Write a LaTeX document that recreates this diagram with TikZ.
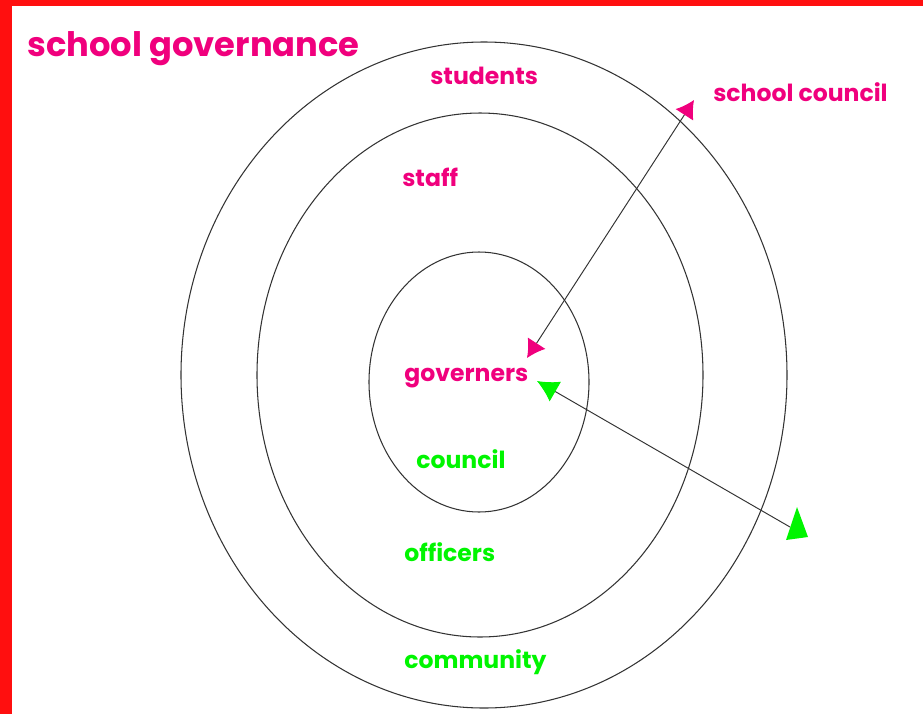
\documentclass[tikz,border=0pt]{standalone}
\usepackage{fontspec}
\setmainfont{Poppins}
\usetikzlibrary{arrows.meta}

\definecolor{govpink}{RGB}{240,0,125}
\definecolor{govgreen}{RGB}{0,245,0}
\definecolor{framered}{RGB}{255,15,15}

\begin{document}
\begin{tikzpicture}[x=0.02cm,y=-0.02cm,
  pink node/.style={text=govpink,anchor=base west,inner sep=0pt,font=\bfseries\fontsize{13.4}{15}\selectfont},
  green node/.style={text=govgreen,anchor=base west,inner sep=0pt,font=\bfseries\fontsize{13.4}{15}\selectfont},
  title node/.style={text=govpink,anchor=base west,inner sep=0pt,font=\bfseries\fontsize{19.2}{22}\selectfont},
  ring/.style={draw=black!80,line width=0.6pt},
  link/.style={draw=black!80,line width=0.55pt}]

  \useasboundingbox (0,0) rectangle (923,714);
  \fill[framered] (0,0) rectangle (12,714);
  \fill[framered] (0,0) rectangle (923,6);

  % the three rings
  \draw[ring] (484,375) ellipse [x radius=303, y radius=333];
  \draw[ring] (480,375) ellipse [x radius=223, y radius=262];
  \draw[ring] (479,382) ellipse [x radius=110, y radius=130];

  \node[title node] (title) at (27,56) {school governance};
  \node[pink node] (students) at (430,84) {students};
  \node[pink node] (schoolcouncil) at (713,101) {school council};
  \node[pink node] (staff) at (402,186) {staff};
  \node[pink node] (governers) at (404,381) {governers};
  \node[green node] (council) at (416,468) {council};
  \node[green node] (officers) at (404,561) {officers};
  \node[green node] (community) at (404,668) {community};

  \coordinate (pinklow) at (527,358);
  \coordinate (pinkhigh) at (694,100);
  \coordinate (greenhigh) at (537,381);
  \coordinate (greenlow) at (790,527);

  \draw[link,{Latex[length=10pt,width=12pt,color=govpink]}-{Latex[length=10pt,width=12pt,color=govpink]}]
    (pinklow) -- (pinkhigh);
  \draw[link,{Latex[length=12pt,width=13pt,color=govgreen]}-]
    (greenhigh) -- (greenlow);
  \fill[govgreen] (786,540) -- (797,507) -- (808,537) -- cycle;

\end{tikzpicture}
\end{document}
